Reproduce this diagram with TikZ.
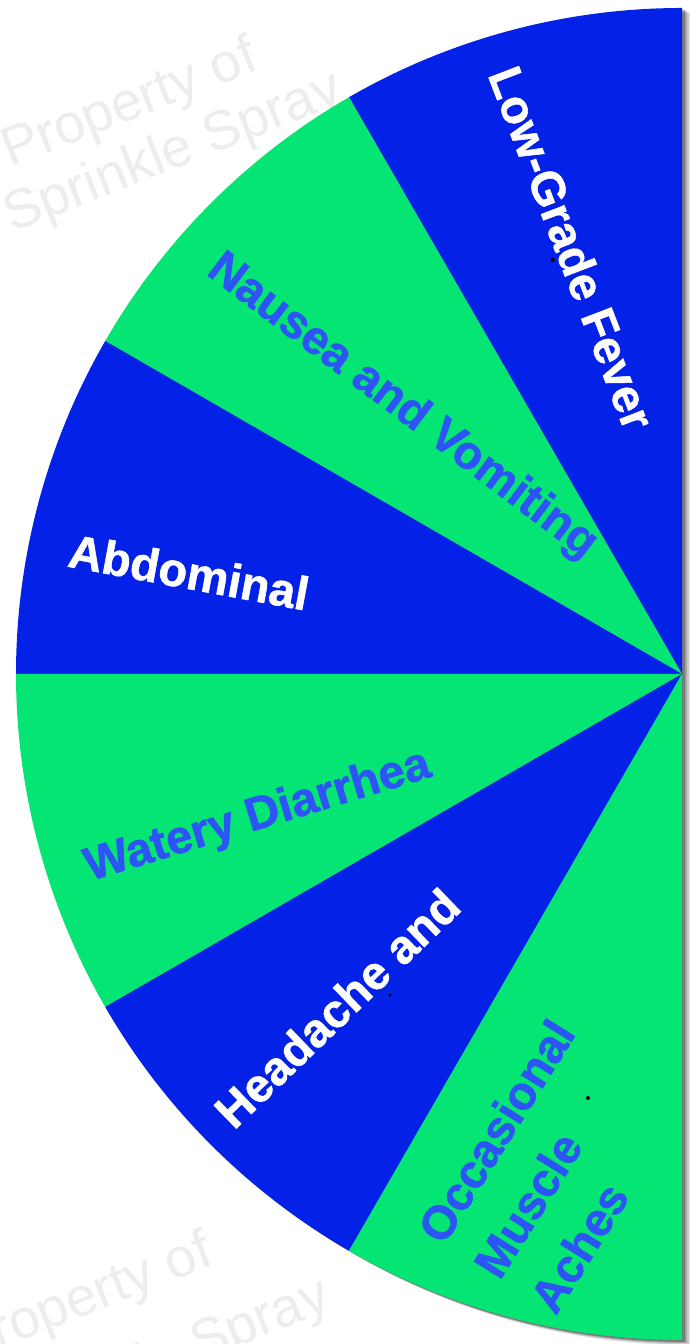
\documentclass[tikz,border=0pt]{standalone}
\usepackage{fontspec}
\setmainfont{Liberation Sans}[BoldFeatures={FakeBold=1.2}]
\definecolor{wblue}{HTML}{0421E8}
\definecolor{wgreen}{HTML}{05E574}
\definecolor{tblue}{HTML}{2D55F5}
\definecolor{wmark}{HTML}{EDEDED}
\begin{document}
\begin{tikzpicture}[x=1pt,y=1pt,
  bluewedge/.style={fill=wblue},
  greenwedge/.style={fill=wgreen},
  lblfont/.style={font=\fontsize{47}{66}\selectfont\bfseries,inner sep=0pt},
  onblue/.style={lblfont,text=white},
  ongreen/.style={lblfont,text=tblue},
  wm/.style={text=wmark,font=\fontsize{55}{60}\selectfont,inner sep=0pt,anchor=base west,rotate=21.5},
  speck/.style={fill=black,draw=none}]
\useasboundingbox (0,0) rectangle (690,1344);
\clip (0,0) rectangle (690,1344);
\fill[white] (0,0) rectangle (690,1344);
% watermarks
\node[wm] (wm1a) at (10,1176) {Property of};
\node[wm] (wm1b) at (12,1111) {Sprinkle Spray};
\node[wm] (wm2a) at (-35,-19) {Property of};
\node[wm] (wm2b) at (0,-96) {Sprinkle Spray};
\coordinate (C) at (682,670);
% shadow
\foreach \d/\o in {9/0.08,7/0.12,5/0.18,3/0.28}{
  \fill[black,opacity=\o] ([shift={(\d,-\d*0.6)}]C) -- ++(90:666) arc[start angle=90,end angle=270,radius=666] -- cycle;
}
% wedges
\foreach \a/\s in {90/bluewedge,120/greenwedge,150/bluewedge,180/greenwedge,210/bluewedge,240/greenwedge}{
  \fill[\s] (C) -- ++(\a:666) arc[start angle=\a,end angle=\a+30,radius=666] -- cycle;
}
% labels
\node[onblue,rotate=-69] (l1) at (572,1096) {Low-Grade Fever};
\node[ongreen,rotate=-37] (l2) at (402,937) {Nausea and Vomiting};
\node[onblue,rotate=-10.5] (l3) at (189,772) {Abdominal};
\node[ongreen,rotate=17] (l4) at (258,527) {Watery Diarrhea};
\node[onblue,rotate=44] (l5) at (337,336) {Headache and};
\node[ongreen,rotate=58,align=left] (l6) at (552,178) {Occasional\\Muscle\\Aches};
% specks
\fill[speck] (553,1084) circle (2);
\fill[speck] (390,349) circle (1.6);
\fill[speck] (588,246) circle (2);
\end{tikzpicture}
\end{document}
